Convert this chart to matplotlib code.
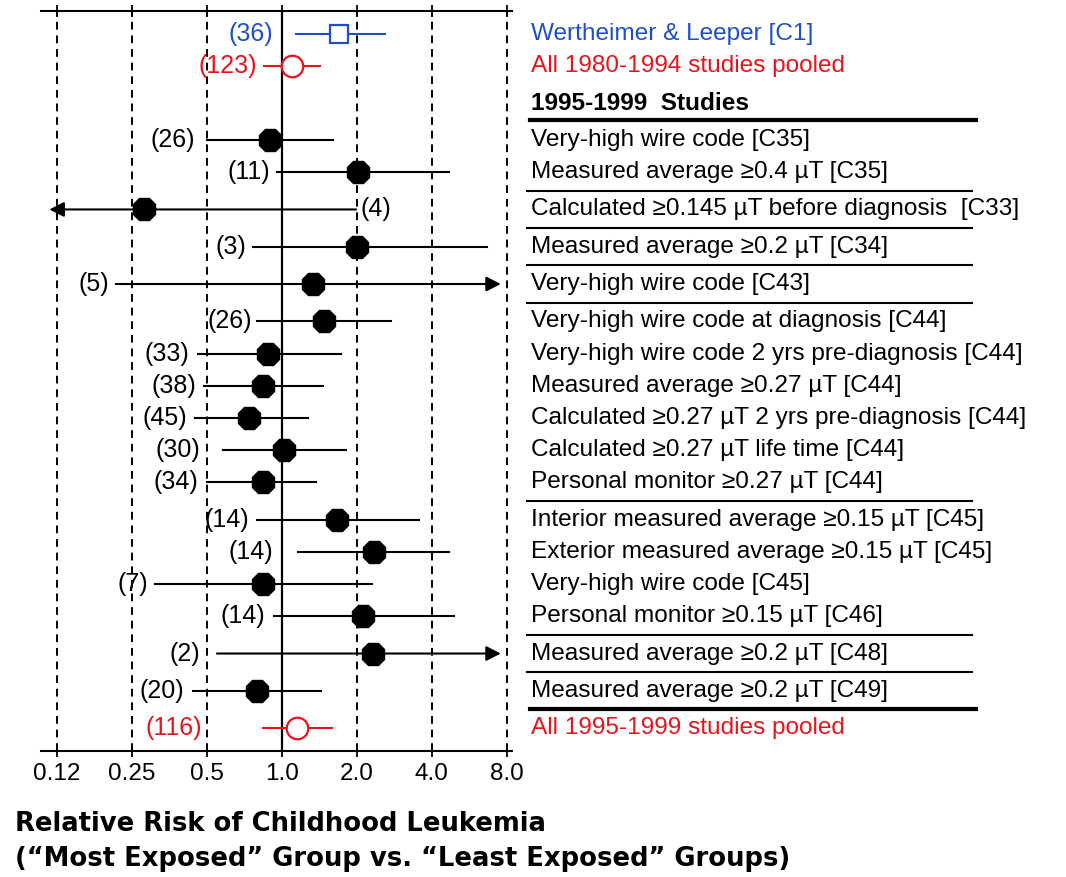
import matplotlib.pyplot as plt
import numpy as np

plt.rcParams.update(
    {
        "font.family": ["Liberation Sans", "DejaVu Sans"],
        "font.size": 16,
        "axes.linewidth": 1.5,
    }
)

BLUE = "#1f4fc8"
RED = "#e6141c"

# ---- data ----
labels = [
    "Wertheimer & Leeper [C1]",
    "All 1980-1994 studies pooled",
    "Very-high wire code [C35]",
    "Measured average \u22650.4 \u00b5T [C35]",
    "Calculated \u22650.145 \u00b5T before diagnosis  [C33]",
    "Measured average \u22650.2 \u00b5T [C34]",
    "Very-high wire code [C43]",
    "Very-high wire code at diagnosis [C44]",
    "Very-high wire code 2 yrs pre-diagnosis [C44]",
    "Measured average \u22650.27 \u00b5T [C44]",
    "Calculated \u22650.27 \u00b5T 2 yrs pre-diagnosis [C44]",
    "Calculated \u22650.27 \u00b5T life time [C44]",
    "Personal monitor \u22650.27 \u00b5T [C44]",
    "Interior measured average \u22650.15 \u00b5T [C45]",
    "Exterior measured average \u22650.15 \u00b5T [C45]",
    "Very-high wire code [C45]",
    "Personal monitor \u22650.15 \u00b5T [C46]",
    "Measured average \u22650.2 \u00b5T [C48]",
    "Measured average \u22650.2 \u00b5T [C49]",
    "All 1995-1999 studies pooled",
]
n_cases = [36, 123, 26, 11, 4, 3, 5, 26, 33, 38, 45, 30, 34, 14, 14, 7, 14, 2, 20, 116]
rr = [1.70, 1.10, 0.90, 2.02, 0.28, 2.00, 1.34, 1.48, 0.88, 0.84, 0.74, 1.02,
      0.84, 1.67, 2.35, 0.84, 2.13, 2.33, 0.80, 1.15]
ci_lo = [1.14, 0.85, 0.50, 0.96, 0.117, 0.77, 0.216, 0.80, 0.46, 0.49, 0.45, 0.58,
         0.50, 0.80, 1.16, 0.31, 0.93, 0.55, 0.44, 0.84]
ci_hi = [2.60, 1.43, 1.61, 4.71, 1.99, 6.70, 7.58, 2.76, 1.73, 1.46, 1.28, 1.82,
         1.38, 3.57, 4.71, 2.31, 4.92, 7.58, 1.44, 1.59]
# CI runs off the scale ("<" left, ">" right)
off_scale = ["", "", "", "", "<", "", ">", "", "", "", "", "", "", "", "", "", "", ">", "", ""]
# study group of each row; a rule is drawn between groups
group = ["C1", "pool80", "C35", "C35", "C33", "C34", "C43", "C44", "C44", "C44", "C44",
         "C44", "C44", "C45", "C45", "C45", "C45", "C48", "C49", "pool95"]
kind = ["square", "open", "dot", "dot", "dot", "dot", "dot", "dot", "dot", "dot", "dot",
        "dot", "dot", "dot", "dot", "dot", "dot", "dot", "dot", "open"]
colors = [BLUE, RED] + ["black"] * 17 + [RED]

xticks = [0.125, 0.25, 0.5, 1.0, 2.0, 4.0, 8.0]
xtick_labels = ["0.12", "0.25", "0.5", "1.0", "2.0", "4.0", "8.0"]

# ---- layout ----
# gap (points) between a count label and the end of its CI line
label_pad = [16, 5, 8, 5, 3, 5, 5, 4, 6, 6, 6, 16, 6, 6, 18, 5, 6, 12, 6, 44]
step_in, step_sep = 0.985, 1.14
y = [0.0, 0.985]
y.append(y[-1] + 2.26)  # room for the "1995-1999 Studies" header
for i in range(3, len(labels)):
    y.append(y[-1] + (step_in if group[i] == group[i - 1] else step_sep))
y = np.array(y)

fig = plt.figure(figsize=(10.66, 8.77), dpi=100)
ax = fig.add_axes([0.0382, 0.1437, 0.4418, 0.8438])
ax_t = fig.add_axes([0.4878, 0.1437, 0.5122, 0.8438], sharey=ax)
ax_t.set_xlim(0, 1)
ax_t.axis("off")

ax.set_xscale("log", base=2)
ax.set_xlim(0.108, 8.38)
ax.set_ylim(21.93, -0.70)

for v in xticks:
    ax.axvline(v, color="black", lw=1.6 if v == 1.0 else 1.4,
               ls="-" if v == 1.0 else (0, (4, 3)), zorder=1)

arrow = dict(arrowstyle="-|>,head_length=0.55,head_width=0.28", color="black",
             lw=1.5, shrinkA=0, shrinkB=0)
for i in range(len(labels)):
    c = colors[i]
    if off_scale[i] == "<":
        ax.annotate("", xy=(ci_lo[i], y[i]), xytext=(ci_hi[i], y[i]),
                    arrowprops=arrow, zorder=2)
    elif off_scale[i] == ">":
        ax.annotate("", xy=(ci_hi[i], y[i]), xytext=(ci_lo[i], y[i]),
                    arrowprops=arrow, zorder=2)
    else:
        ax.plot([ci_lo[i], ci_hi[i]], [y[i], y[i]], color=c, lw=1.5, zorder=2)

    if kind[i] == "dot":
        ax.plot(rr[i], y[i], marker="8", ms=17.5, color="black", zorder=3)
    elif kind[i] == "open":
        ax.plot(rr[i], y[i], marker="o", ms=15.5, mfc="white", mec=c, mew=1.6, zorder=3)
    else:
        ax.plot(rr[i], y[i], marker="s", ms=12.5, mfc="white", mec=c, mew=1.6, zorder=3)

    if off_scale[i] == "<":
        ax.annotate(f"({n_cases[i]})", xy=(ci_hi[i], y[i]), xytext=(label_pad[i], 0),
                    textcoords="offset points", ha="left", va="center", color=c,
                    fontsize=18)
    else:
        ax.annotate(f"({n_cases[i]})", xy=(ci_lo[i], y[i]), xytext=(-label_pad[i], 0),
                    textcoords="offset points", ha="right", va="center", color=c,
                    fontsize=18)

# axis frame: only top and bottom rules with ticks
for s in ["left", "right"]:
    ax.spines[s].set_visible(False)
ax.set_yticks([])
ax.set_xticks(xticks)
ax.set_xticklabels(xtick_labels)
ax.minorticks_off()
ax.tick_params(axis="x", which="both", top=True, direction="inout", length=9,
               width=1.3, labelsize=17.5, pad=4)

# right-hand study descriptions
for i, lab in enumerate(labels):
    ax_t.text(0.02, y[i], lab, color=colors[i], ha="left", va="center", fontsize=17.6)

header_y = (y[1] + y[2]) / 2
ax_t.text(0.02, header_y, "1995-1999  Studies", fontweight="bold", ha="left",
          va="center", fontsize=17.6)
ax_t.plot([0.018, 0.835], [y[2] - 0.62] * 2, color="black", lw=3.0)
for i in range(3, len(labels)):
    if group[i] != group[i - 1]:
        yy = (y[i] + y[i - 1]) / 2
        if group[i] == "pool95":
            ax_t.plot([0.018, 0.835], [yy, yy], color="black", lw=3.0)
        else:
            ax_t.plot([0.013, 0.828], [yy, yy], color="black", lw=1.5)

fig.text(0.014, 0.061, "Relative Risk of Childhood Leukemia", fontweight="bold",
         fontsize=18.6, family=["DejaVu Sans"], va="center")
fig.text(0.014, 0.021, "(\u201cMost Exposed\u201d Group vs. \u201cLeast Exposed\u201d Groups)",
         fontweight="bold", fontsize=18.6, family=["DejaVu Sans"], va="center")

fig.savefig("out.png", dpi=100)
